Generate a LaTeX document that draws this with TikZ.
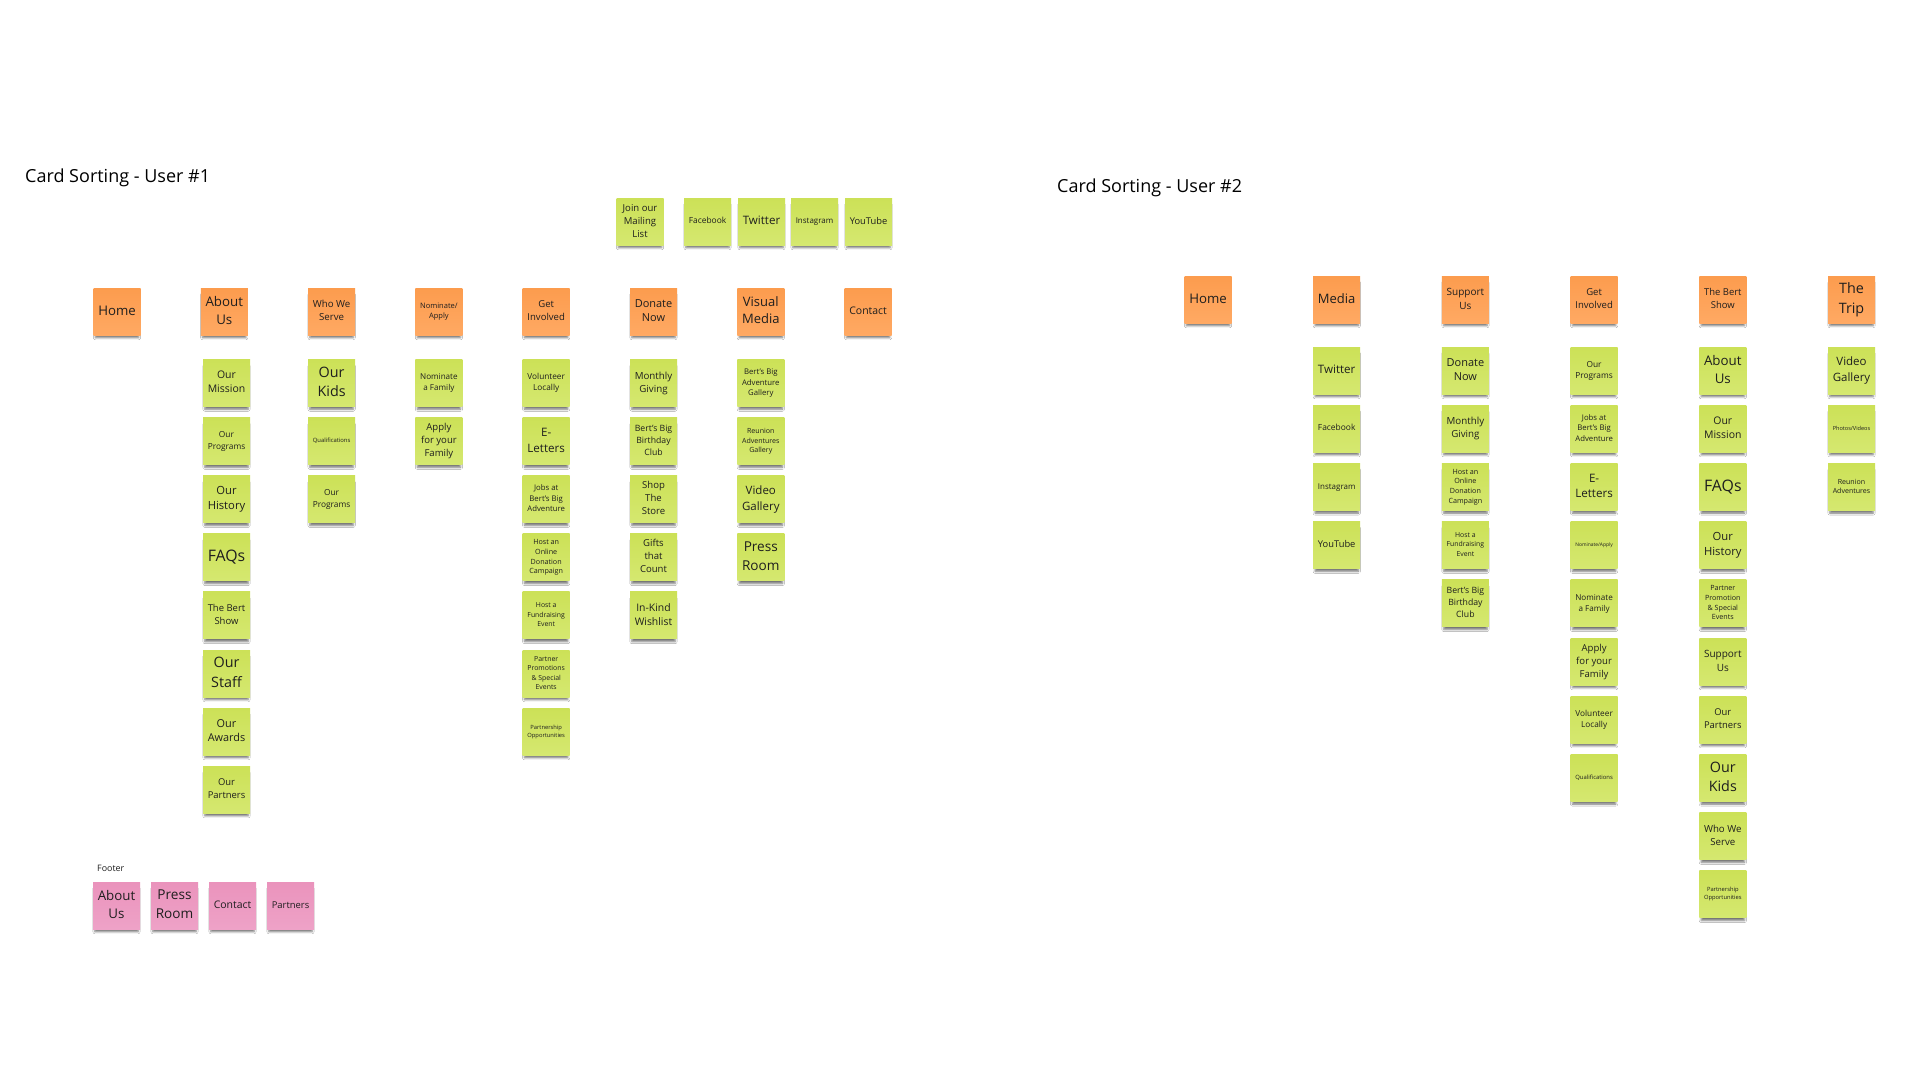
\documentclass[tikz,border=0pt]{standalone}
\usepackage{fontspec}
\setmainfont{Open Sans}
\usepackage{graphicx}
\usetikzlibrary{shadows.blur}
\definecolor{ortop}{HTML}{FC9C4E}
\definecolor{orbot}{HTML}{FFA963}
\definecolor{grtop}{HTML}{CCE157}
\definecolor{grbot}{HTML}{D5E870}
\definecolor{pktop}{HTML}{EA93BC}
\definecolor{pkbot}{HTML}{EEA2C7}
\definecolor{txt}{HTML}{1E1E1E}
\newsavebox\fitbox
\newdimen\fitdim
\newcommand\fittxt[1]{%
  \sbox\fitbox{\fontsize{20}{27.2}\selectfont\begin{tabular}{@{}c@{}}#1\end{tabular}}%
  \fitdim=\ht\fitbox \advance\fitdim by \dp\fitbox
  \pgfmathsetmacro\fitsw{37.5/\the\wd\fitbox}%
  \pgfmathsetmacro\fitsh{39/\the\fitdim}%
  \pgfmathsetmacro\fits{min(\fitsw,\fitsh)}%
  \raisebox{1.5pt}{\scalebox{\fits}{\usebox\fitbox}}}
\tikzset{
  card/.style={minimum width=47pt, minimum height=47pt, inner sep=0pt, text=txt,
    blur shadow={shadow xshift=0pt, shadow yshift=-5pt, shadow scale=0.92,
      shadow blur radius=2.2pt, shadow opacity=55}},
  orangecard/.style={card, top color=ortop, bottom color=orbot},
  greencard/.style={card, top color=grtop, bottom color=grbot},
  pinkcard/.style={card, top color=pktop, bottom color=pkbot},
  title/.style={anchor=base west, inner sep=0pt, text=black, font=\fontsize{18}{22}\selectfont},
}
\newcommand\cardrow[6]{% prefix, style, x0, dx, y, list
  \foreach \t [count=\k from 0] in {#6} {
    \pgfmathsetmacro\xx{#3+#4*\k}
    \node[#2] (#1\k) at (\xx,#5) {\fittxt{\t}};
  }}
\newcommand\cardcol[6]{% prefix, style, x, y0, dy, list
  \foreach \t [count=\k from 0] in {#6} {
    \pgfmathsetmacro\yy{#4+#5*\k}
    \node[#2] (#1\k) at (#3,\yy) {\fittxt{\t}};
  }}
\begin{document}
\begin{tikzpicture}[x=1pt, y=-1pt]
\path[use as bounding box, fill=white] (0,0) rectangle (1920,1080);

% ---------------- User 1 ----------------
\node[title] (t1) at (25,182) {Card Sorting - User \#1};

\cardrow{top}{greencard}{640}{0}{221.5}{{Join our\\Mailing\\List}}
\node[greencard] (fb1) at (707.5,221.5) {\fittxt{Facebook}};
\node[greencard] (tw1) at (761.5,221.5) {\fittxt{Twitter}};
\node[greencard] (ig1) at (814.5,221.5) {\fittxt{Instagram}};
\node[greencard] (yt1) at (868.5,221.5) {\fittxt{YouTube}};

\cardrow{ah}{orangecard}{117}{107.3}{311.5}{{Home},{About\\Us},{Who We\\Serve},{Nominate/\\Apply},{Get\\Involved},{Donate\\Now},{Visual\\Media},{Contact}}

\cardcol{aa}{greencard}{226.5}{383}{58.1}{{Our\\Mission},{Our\\Programs},{Our\\History},{FAQs},{The Bert\\Show},{Our\\Staff},{Our\\Awards},{Our\\Partners}}
\cardcol{ab}{greencard}{331.6}{383}{58.1}{{Our\\Kids},{Qualifications},{Our\\Programs}}
\cardcol{ac}{greencard}{438.9}{383}{58.1}{{Nominate\\a Family},{Apply\\for your\\Family}}
\cardcol{ad}{greencard}{546.2}{383}{58.1}{{Volunteer\\Locally},{E-\\Letters},{Jobs at\\Bert's Big\\Adventure},{Host an\\Online\\Donation\\Campaign},{Host a\\Fundraising\\Event},{Partner\\Promotions\\\& Special\\Events},{Partnership\\Opportunities}}
\cardcol{ae}{greencard}{653.5}{383}{58.1}{{Monthly\\Giving},{Bert's Big\\Birthday\\Club},{Shop\\The\\Store},{Gifts\\that\\Count},{In-Kind\\Wishlist}}
\cardcol{af}{greencard}{760.8}{383}{58.1}{{Bert's Big\\Adventure\\Gallery},{Reunion\\Adventures\\Gallery},{Video\\Gallery},{Press\\Room}}

\node[anchor=base west, inner sep=0pt, text=txt, font=\fontsize{8.9}{10}\selectfont] (footer) at (97,871) {Footer};
\cardrow{ft}{pinkcard}{116.5}{58}{905.5}{{About\\Us},{Press\\Room},{Contact},{Partners}}

% ---------------- User 2 ----------------
\node[title] (t2) at (1057,192) {Card Sorting - User \#2};

\cardrow{bh}{orangecard}{1208}{128.7}{299.5}{{Home},{Media},{Support\\Us},{Get\\Involved},{The Bert\\Show},{The\\Trip}}

\cardcol{ba}{greencard}{1336.7}{370.5}{58.2}{{Twitter},{Facebook},{Instagram},{YouTube}}
\cardcol{bb}{greencard}{1465.4}{370.5}{58.2}{{Donate\\Now},{Monthly\\Giving},{Host an\\Online\\Donation\\Campaign},{Host a\\Fundraising\\Event},{Bert's Big\\Birthday\\Club}}
\cardcol{bc}{greencard}{1594.1}{370.5}{58.2}{{Our\\Programs},{Jobs at\\Bert's Big\\Adventure},{E-\\Letters},{Nominate/Apply},{Nominate\\a Family},{Apply\\for your\\Family},{Volunteer\\Locally},{Qualifications}}
\cardcol{bd}{greencard}{1722.8}{370.5}{58.2}{{About\\Us},{Our\\Mission},{FAQs},{Our\\History},{Partner\\Promotion\\\& Special\\Events},{Support\\Us},{Our\\Partners},{Our\\Kids},{Who We\\Serve},{Partnership\\Opportunities}}
\cardcol{be}{greencard}{1851.5}{370.5}{58.2}{{Video\\Gallery},{Photos/Videos},{Reunion\\Adventures}}
\end{tikzpicture}
\end{document}
